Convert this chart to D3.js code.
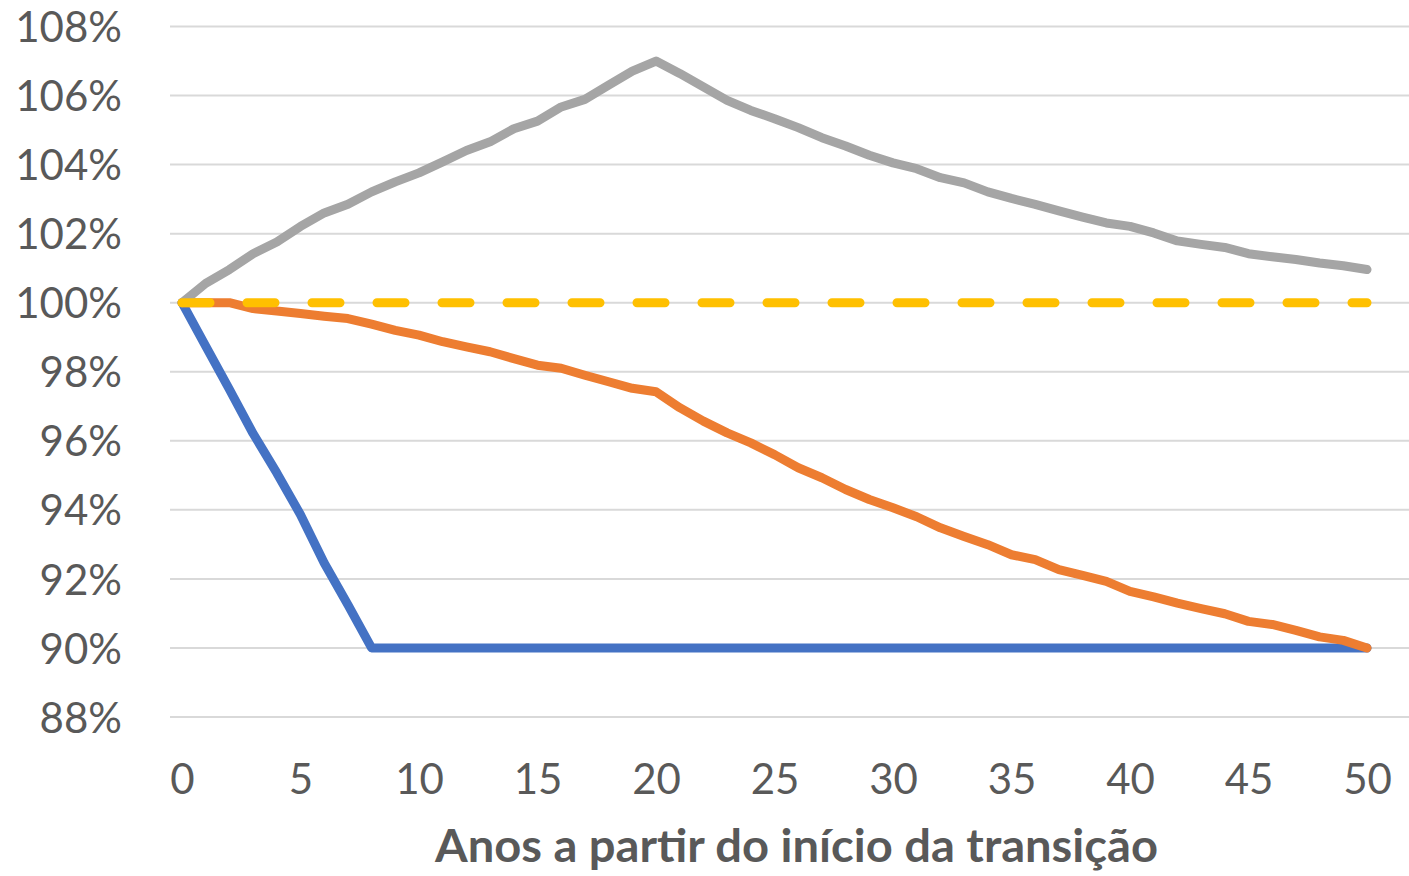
<!DOCTYPE html>
<html>
<head>
<meta charset="utf-8">
<script src="https://cdn.jsdelivr.net/npm/d3@7"></script>
<style>
  html, body { margin: 0; padding: 0; background: #fff; }
  svg text { font-family: Lato, "Open Sans", sans-serif; fill: #595959; }
</style>
</head>
<body>
<div id="chart"></div>
<script>
// Years since start of the transition
const years = d3.range(0, 51);

// Series values, in percent of the starting level
const blueValues = [100, 98.74, 97.49, 96.21, 95.07, 93.86, 92.46, 91.25, 90.0,
  90, 90, 90, 90, 90, 90, 90, 90, 90, 90, 90, 90, 90, 90, 90, 90, 90, 90, 90, 90, 90,
  90, 90, 90, 90, 90, 90, 90, 90, 90, 90, 90, 90, 90, 90, 90, 90, 90, 90, 90, 90, 90];

const orangeValues = [100, 100, 100, 99.83, 99.76, 99.69, 99.61, 99.54, 99.38, 99.20,
  99.06, 98.87, 98.72, 98.58, 98.38, 98.19, 98.10, 97.90, 97.71, 97.52,
  97.42, 96.96, 96.57, 96.23, 95.94, 95.60, 95.22, 94.93, 94.59, 94.30,
  94.06, 93.80, 93.48, 93.23, 92.99, 92.70, 92.56, 92.27, 92.10, 91.93,
  91.64, 91.48, 91.30, 91.14, 90.99, 90.77, 90.68, 90.51, 90.32, 90.22, 90.00];

const grayValues = [100, 100.56, 100.96, 101.42, 101.76, 102.21, 102.60, 102.85, 103.21, 103.50,
  103.76, 104.08, 104.41, 104.66, 105.04, 105.26, 105.67, 105.89, 106.30, 106.71,
  107.00, 106.64, 106.25, 105.86, 105.57, 105.33, 105.07, 104.78, 104.54, 104.27,
  104.05, 103.88, 103.62, 103.47, 103.21, 103.02, 102.85, 102.66, 102.48, 102.31,
  102.21, 102.02, 101.79, 101.69, 101.60, 101.42, 101.33, 101.25, 101.15, 101.07, 100.96];

const yellowValues = years.map(() => 100);

const yTicks = [88, 90, 92, 94, 96, 98, 100, 102, 104, 106, 108];
const xTicks = [0, 5, 10, 15, 20, 25, 30, 35, 40, 45, 50];
const xTitle = "Anos a partir do início da transição";

const W = 1409, H = 876;
const svg = d3.select('#chart').append('svg')
  .attr('width', W)
  .attr('height', H);

const x = d3.scaleLinear().domain([0, 50]).range([182, 1367]);
const y = d3.scaleLinear().domain([88, 108]).range([717, 26.5]);

// Gridlines
svg.append('g').selectAll('line')
  .data(yTicks)
  .enter().append('line')
  .attr('x1', 170).attr('x2', W)
  .attr('y1', d => y(d)).attr('y2', d => y(d))
  .attr('stroke', '#d9d9d9')
  .attr('stroke-width', 2);

// Y axis labels
const yAxis = d3.axisLeft(y).tickValues(yTicks).tickSize(0).tickPadding(0)
  .tickFormat(d => d + '%');
const gy = svg.append('g').attr('transform', 'translate(122,0)').call(yAxis);
gy.select('.domain').remove();
gy.selectAll('text')
  .attr('font-size', 42)
  .attr('font-family', 'Lato, sans-serif')
  .attr('fill', '#595959')
  .attr('dy', '0.36em');

// X axis labels
const xAxis = d3.axisBottom(x).tickValues(xTicks).tickSize(0).tickPadding(0);
const gx = svg.append('g').attr('transform', 'translate(0,764)').call(xAxis);
gx.select('.domain').remove();
gx.selectAll('text')
  .attr('font-size', 42)
  .attr('font-family', 'Lato, sans-serif')
  .attr('fill', '#595959')
  .attr('dy', '0.72em');

// X axis title
svg.append('text')
  .attr('x', 796.5)
  .attr('y', 862)
  .attr('text-anchor', 'middle')
  .attr('font-size', 45)
  .attr('font-weight', 'bold')
  .attr('textLength', 723)
  .attr('lengthAdjust', 'spacingAndGlyphs')
  .text(xTitle);

const line = d3.line()
  .x((d, i) => x(years[i]))
  .y(d => y(d));

const series = [
  { values: blueValues, color: '#4472C4' },
  { values: orangeValues, color: '#ED7D31' },
  { values: grayValues, color: '#A5A5A5' },
  { values: yellowValues, color: '#FFC000', dash: '28 37' }
];

series.forEach(s => {
  svg.append('path')
    .datum(s.values)
    .attr('d', line)
    .attr('fill', 'none')
    .attr('stroke', s.color)
    .attr('stroke-width', 9)
    .attr('stroke-linejoin', 'round')
    .attr('stroke-linecap', 'round')
    .attr('stroke-dasharray', s.dash || null);
});
</script>
</body>
</html>
